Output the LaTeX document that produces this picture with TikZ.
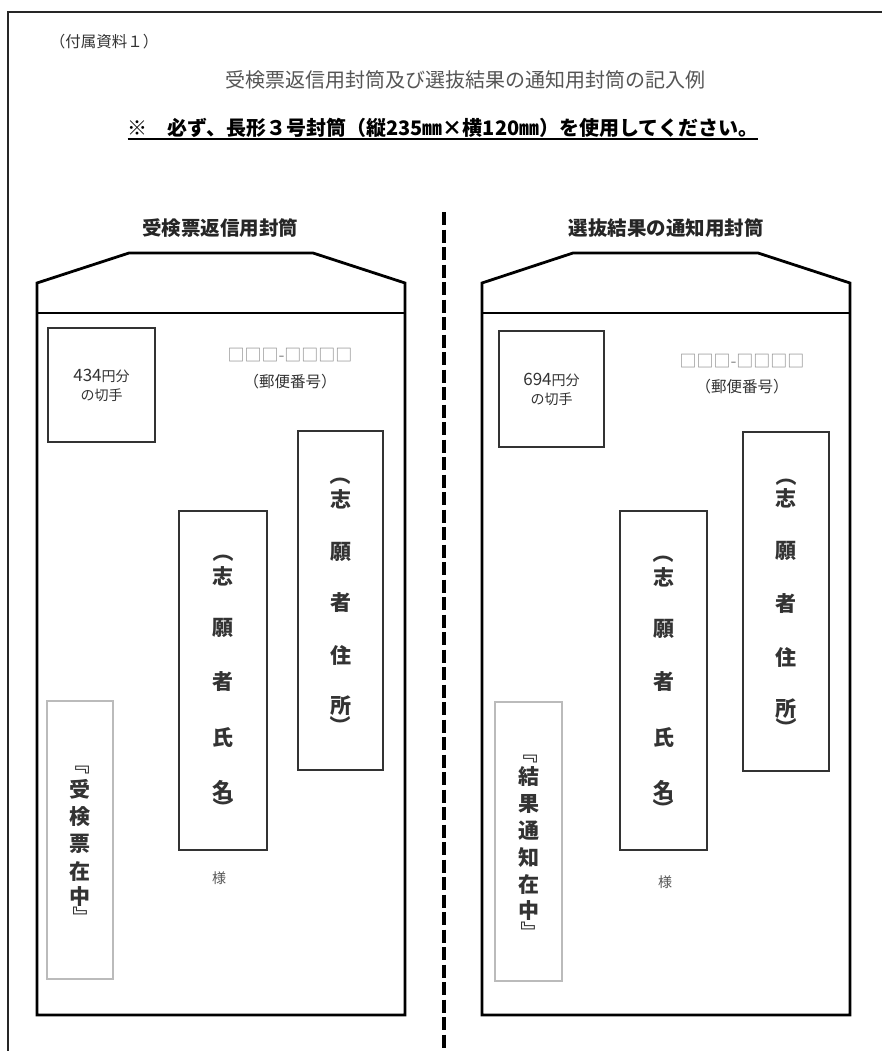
\documentclass[tikz,border=0pt]{standalone}
\usepackage{graphicx}
\usepackage{fontspec}
\setmainfont{Noto Sans CJK JP}
\definecolor{ink}{HTML}{333333}
\definecolor{soft}{HTML}{555555}
\definecolor{zipgray}{HTML}{8A8A8A}
\definecolor{boxgray}{HTML}{BBBBBB}
% one row of a vertical column: zero-height box centred on the glyph
\newcommand\vrow[1]{\hbox to 2em{\hss\vbox to 0pt{\vss\hbox{#1}\vss}\hss}}
\newcommand\vgap[1]{\kern#1pt}
% punctuation turned for vertical writing
\newcommand\vturn[1]{\vrow{\rotatebox[origin=c]{-90}{#1}}}
\begin{document}
\begin{tikzpicture}[x=1pt,y=-1pt,
  every node/.style={inner sep=0pt},
  envline/.style={line width=2.8pt, line join=miter, draw=black},
  flapline/.style={line width=1.8pt, draw=black},
  framebox/.style={line width=2pt, draw=black!85},
  stampbox/.style={draw=ink, line width=1.5pt, align=center, font=\fontsize{14}{19}\selectfont, text=ink},
  addrbox/.style={draw=ink, line width=1.5pt},
  graybox/.style={draw=boxgray, line width=1.2pt},
  vchar/.style={font=\fontsize{21}{21}\selectfont\bfseries, text=ink},
  heading/.style={font=\fontsize{19.5}{20}\selectfont\bfseries, text=black!85},
  zip/.style={font=\fontsize{17}{17}\selectfont, text=zipgray},
  zipnote/.style={font=\fontsize{15.5}{16}\selectfont, text=ink},
  sama/.style={font=\fontsize{14}{14}\selectfont, text=soft},
  divider/.style={line width=4pt, dash pattern=on 13pt off 4.5pt}
]
\useasboundingbox (0,0) rectangle (882,1051);
\fill[white] (0,0) rectangle (882,1051);
\begin{scope}
  \clip (0,0) rectangle (882,1051);
  \draw[framebox] (8,1060) -- (8,12) -- (890,12);
\end{scope}

% header texts
\node[font=\fontsize{15.5}{16}\selectfont, text=ink] (annex) at (104,42) {（付属資料１）};
\node[font=\fontsize{20}{20}\selectfont, text=soft] (title) at (465,80) {受検票返信用封筒及び選抜結果の通知用封筒の記入例};
\node[font=\fontsize{20}{20}\selectfont\bfseries, text=black] (note) at (443,128) {※　必ず、長形３号封筒（縦235㎜×横120㎜）を使用してください。};
\draw[line width=1.2pt] ([shift={(0,11)}]note.west) -- ([shift={(0,11)}]note.east);

% divider
\coordinate (divTop) at (444,212);
\coordinate (divBot) at (444,1051);
\draw[divider] (divTop) -- (divBot);

% envelopes
\node[heading] (headL) at (220,228) {受検票返信用封筒};
\node[heading] (headR) at (666,228) {選抜結果の通知用封筒};
\draw[envline] (37,1015) -- (37,283) -- (129,253) -- (313,253) -- (405,283) -- (405,1015) -- cycle;
\draw[flapline] (37,313) -- (405,313);
\draw[envline] (482,1015) -- (482,283) -- (573,253) -- (758,253) -- (850,283) -- (850,1015) -- cycle;
\draw[flapline] (482,313) -- (850,313);

% stamps
\node[stampbox, minimum width=107, minimum height=114] (stampL) at (101.5,385) {{\fontsize{17}{19}\selectfont 434}円分\\の切手};
\node[stampbox, minimum width=105, minimum height=116] (stampR) at (551.5,389) {{\fontsize{17}{19}\selectfont 694}円分\\の切手};

% postal codes
\node[zip] (zipL) at (290,355) {□□□-□□□□};
\node[zipnote] (postL) at (290,382) {（郵便番号）};
\node[zip] (zipR) at (742,361) {□□□-□□□□};
\node[zipnote] (postR) at (742,387) {（郵便番号）};

% boxes
\node[addrbox, minimum width=85, minimum height=339] (addrL) at (340.5,600.5) {};
\node[addrbox, minimum width=88, minimum height=339] (nameL) at (223,680.5) {};
\node[graybox, minimum width=66, minimum height=278] (fwdL) at (80,840) {};
\node[addrbox, minimum width=86, minimum height=339] (addrR) at (786,601.5) {};
\node[addrbox, minimum width=87, minimum height=339] (nameR) at (663.5,680.5) {};
\node[graybox, minimum width=67, minimum height=279] (fwdR) at (528.5,841.5) {};

% vertical texts (one node per column)
\node[vchar] (addrL-t) at (340.5,600.5) {\vbox{\offinterlineskip
  \vturn{（}\vgap{24}\vrow{志}\vgap{53}\vrow{願}\vgap{51}\vrow{者}\vgap{52}\vrow{住}\vgap{51}\vrow{所}\vgap{20}\vturn{）}}};
\node[vchar] (nameL-t) at (223,680) {\vbox{\offinterlineskip
  \vturn{（}\vgap{24}\vrow{志}\vgap{52}\vrow{願}\vgap{54}\vrow{者}\vgap{55}\vrow{氏}\vgap{53}\vrow{名}\vgap{18}\vturn{）}}};
\node[vchar] (addrR-t) at (786,602) {\vbox{\offinterlineskip
  \vturn{（}\vgap{22}\vrow{志}\vgap{53}\vrow{願}\vgap{53}\vrow{者}\vgap{53}\vrow{住}\vgap{52}\vrow{所}\vgap{19}\vturn{）}}};
\node[vchar] (nameR-t) at (663.5,681) {\vbox{\offinterlineskip
  \vturn{（}\vgap{24}\vrow{志}\vgap{52}\vrow{願}\vgap{53}\vrow{者}\vgap{55}\vrow{氏}\vgap{53}\vrow{名}\vgap{19}\vturn{）}}};
\node[vchar] (fwdL-t) at (80,840.5) {\vbox{\offinterlineskip
  \vturn{『}\vgap{25}\vrow{受}\vgap{28}\vrow{検}\vgap{27}\vrow{票}\vgap{27}\vrow{在}\vgap{26}\vrow{中}\vgap{20}\vturn{』}}};
\node[vchar] (fwdR-t) at (528.5,842.5) {\vbox{\offinterlineskip
  \vturn{『}\vgap{24}\vrow{結}\vgap{27}\vrow{果}\vgap{27}\vrow{通}\vgap{26}\vrow{知}\vgap{27}\vrow{在}\vgap{27}\vrow{中}\vgap{21}\vturn{』}}};

% honorific
\node[sama] (samaL) at (219,878) {様};
\node[sama] (samaR) at (665,882) {様};
\end{tikzpicture}
\end{document}
